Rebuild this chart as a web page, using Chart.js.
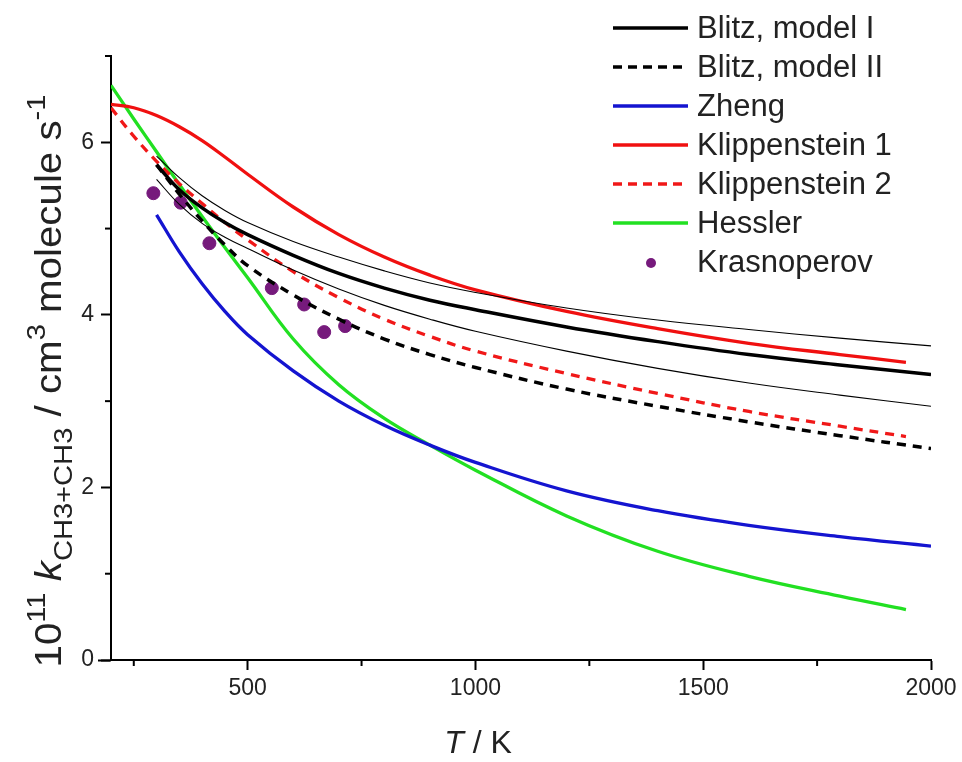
<!DOCTYPE html>
<html>
<head>
<meta charset="utf-8">
<script src="https://cdn.jsdelivr.net/npm/chart.js@4.4.1/dist/chart.umd.min.js"></script>
<style>
  html, body { margin: 0; padding: 0; background: #fff; }
</style>
</head>
<body>
<canvas id="mainChart" width="962" height="762"></canvas>
<script>
// 온도 격자 및 계열 값
const tBlitz = [300, 350, 400, 450, 500, 600, 700, 800, 900, 1000, 1200, 1400, 1600, 1800, 2000];
const blitz1 = [5.74, 5.45, 5.24, 5.07, 4.93, 4.69, 4.48, 4.31, 4.17, 4.06, 3.86, 3.69, 3.54, 3.42, 3.31];
const blitz1Upper = [5.84, 5.59, 5.38, 5.21, 5.07, 4.85, 4.67, 4.51, 4.37, 4.26, 4.08, 3.94, 3.83, 3.73, 3.64];
const blitz1Lower = [5.57, 5.28, 5.06, 4.90, 4.77, 4.52, 4.30, 4.11, 3.95, 3.81, 3.58, 3.38, 3.21, 3.07, 2.94];
const blitz2 = [5.74, 5.40, 5.09, 4.81, 4.57, 4.23, 3.95, 3.72, 3.54, 3.39, 3.14, 2.94, 2.76, 2.60, 2.45];

const tZheng = [300, 350, 400, 450, 500, 600, 700, 800, 900, 1000, 1200, 1400, 1600, 1800, 2000];
const zheng = [5.16, 4.73, 4.36, 4.04, 3.77, 3.35, 3.00, 2.72, 2.49, 2.29, 1.96, 1.73, 1.56, 1.43, 1.32];

const tKlip = [200, 250, 300, 350, 400, 450, 500, 600, 700, 800, 900, 1000, 1200, 1400, 1600, 1800, 1945];
const klip1 = [6.44, 6.40, 6.31, 6.18, 6.02, 5.83, 5.63, 5.25, 4.93, 4.67, 4.46, 4.29, 4.04, 3.84, 3.67, 3.54, 3.45];
const klip2 = [6.40, 6.07, 5.78, 5.52, 5.29, 5.07, 4.87, 4.50, 4.20, 3.95, 3.75, 3.58, 3.32, 3.09, 2.88, 2.71, 2.59];

const tHessler = [200, 250, 300, 350, 400, 450, 500, 600, 700, 800, 900, 1000, 1200, 1400, 1600, 1800, 1945];
const hessler = [6.66, 6.27, 5.89, 5.51, 5.14, 4.78, 4.43, 3.72, 3.19, 2.80, 2.49, 2.20, 1.67, 1.26, 0.97, 0.74, 0.585];

const tKras = [293, 353, 416, 553, 624, 668, 714];
const kras = [5.41, 5.30, 4.83, 4.31, 4.12, 3.80, 3.87];

// 축 눈금
const xTicks = [500, 1000, 1500, 2000];
const xMinorTicks = [250, 750, 1250, 1750];
const yTicks = [0, 2, 4, 6];
const yMinorTicks = [1, 3, 5, 7];

const FONT = "'Liberation Sans', Arial, sans-serif";

// x, y 배열 -> 점 목록
function toPoints(xs, ys) {
  return xs.map((x, i) => ({ x: x, y: ys[i] }));
}

function lineSet(label, xs, ys, color, width, dash) {
  return {
    type: 'line',
    label: label,
    data: toPoints(xs, ys),
    borderColor: color,
    backgroundColor: color,
    borderWidth: width,
    borderDash: dash || [],
    pointRadius: 0,
    fill: false,
    tension: 0.4
  };
}

const datasets = [
  lineSet('', tBlitz, blitz1Upper, '#000', 1.1),
  lineSet('', tBlitz, blitz1Lower, '#000', 1.1),
  lineSet('Klippenstein 1', tKlip, klip1, '#f01010', 3.3),
  lineSet('Blitz, model I', tBlitz, blitz1, '#000', 3.5),
  lineSet('Klippenstein 2', tKlip, klip2, '#f01818', 3.3, [9, 7]),
  lineSet('Blitz, model II', tBlitz, blitz2, '#000', 3.5, [9, 7]),
  lineSet('Zheng', tZheng, zheng, '#1414d0', 3.3),
  lineSet('Hessler', tHessler, hessler, '#22e022', 3.3),
  {
    type: 'scatter',
    label: 'Krasnoperov',
    data: toPoints(tKras, kras),
    backgroundColor: '#761a7c',
    borderColor: '#761a7c',
    pointRadius: 6.5
  }
];

// 범례 순서
const legendOrder = ['Blitz, model I', 'Blitz, model II', 'Zheng', 'Klippenstein 1', 'Klippenstein 2', 'Hessler', 'Krasnoperov'];

// 보조 눈금, 축 제목, 범례 그리기
const decorPlugin = {
  id: 'decor',
  afterDraw(chart) {
    const c = chart.ctx;
    const xs = chart.scales.x;
    const ys = chart.scales.y;
    const area = chart.chartArea;

    c.save();
    c.strokeStyle = '#000';
    c.lineWidth = 2;
    // 보조 눈금
    xMinorTicks.forEach(v => {
      const px = xs.getPixelForValue(v);
      c.beginPath();
      c.moveTo(px, area.bottom);
      c.lineTo(px, area.bottom + 6);
      c.stroke();
    });
    yMinorTicks.forEach(v => {
      const py = ys.getPixelForValue(v);
      c.beginPath();
      c.moveTo(area.left, py);
      c.lineTo(area.left - 6, py);
      c.stroke();
    });
    // x축 왼쪽 연장
    c.beginPath();
    c.moveTo(area.left - 13, area.bottom + 0.5);
    c.lineTo(area.left, area.bottom + 0.5);
    c.stroke();

    // x축 제목
    c.fillStyle = '#222';
    c.textBaseline = 'alphabetic';
    c.font = 'italic 32px ' + FONT;
    const wT = c.measureText('T').width;
    c.font = '32px ' + FONT;
    const wRest = c.measureText(' / K').width;
    const tx = 478 - (wT + wRest) / 2;
    c.font = 'italic 32px ' + FONT;
    c.fillText('T', tx, 753);
    c.font = '32px ' + FONT;
    c.fillText(' / K', tx + wT, 753);

    // y축 제목 (위첨자, 아래첨자 포함)
    const parts = [
      { t: '10', size: 36, dy: 0 },
      { t: '11', size: 26, dy: -16 },
      { t: ' ', size: 36, dy: 0 },
      { t: 'k', size: 36, dy: 0, italic: true },
      { t: 'CH3+CH3', size: 26, dy: 11 },
      { t: ' / cm', size: 36, dy: 0 },
      { t: '3', size: 26, dy: -16 },
      { t: ' molecule s', size: 36, dy: 0 },
      { t: '-1', size: 26, dy: -16 }
    ];
    let total = 0;
    parts.forEach(p => {
      c.font = (p.italic ? 'italic ' : '') + p.size + 'px ' + FONT;
      p.w = c.measureText(p.t).width;
      total += p.w;
    });
    const stretch = 573 / total;
    c.translate(61, 381);
    c.rotate(-Math.PI / 2);
    c.scale(stretch, 1);
    let px = -total / 2;
    parts.forEach(p => {
      c.font = (p.italic ? 'italic ' : '') + p.size + 'px ' + FONT;
      c.fillText(p.t, px, p.dy);
      px += p.w;
    });
    c.restore();

    // 범례
    c.save();
    c.textBaseline = 'middle';
    c.font = '31px ' + FONT;
    legendOrder.forEach((name, i) => {
      const ds = chart.data.datasets.find(d => d.label === name);
      const y = 28 + i * 39;
      if (ds.type === 'scatter') {
        c.fillStyle = ds.backgroundColor;
        c.beginPath();
        c.arc(651, y + 1, 5, 0, Math.PI * 2);
        c.fill();
      } else {
        c.strokeStyle = ds.borderColor;
        c.lineWidth = 3.3;
        c.setLineDash(ds.borderDash.length ? [9, 6] : []);
        c.beginPath();
        c.moveTo(613, y);
        c.lineTo(688, y);
        c.stroke();
        c.setLineDash([]);
      }
      c.fillStyle = '#222';
      c.fillText(name, 697, y + 1);
    });
    c.restore();
  }
};

const ctx = document.getElementById('mainChart').getContext('2d');
const mainChart = new Chart(ctx, {
  type: 'line',
  data: { datasets: datasets },
  options: {
    responsive: false,
    animation: false,
    layout: { padding: { top: 56, right: 31, left: 0, bottom: 0 } },
    plugins: {
      legend: { display: false },
      tooltip: { enabled: false }
    },
    scales: {
      x: {
        type: 'linear',
        min: 200,
        max: 2000,
        afterBuildTicks: s => { s.ticks = xTicks.map(v => ({ value: v })); },
        afterFit: s => { s.height = 102; },
        grid: { drawOnChartArea: false, drawTicks: true, tickLength: 10, tickWidth: 2, tickColor: '#000' },
        border: { display: true, color: '#000', width: 2 },
        ticks: { color: '#222', font: { family: FONT, size: 23 }, padding: 5, maxRotation: 0, callback: v => String(v) }
      },
      y: {
        type: 'linear',
        min: 0,
        max: 7,
        afterBuildTicks: s => { s.ticks = yTicks.map(v => ({ value: v })); },
        afterFit: s => { s.width = 111; },
        grid: { drawOnChartArea: false, drawTicks: true, tickLength: 10, tickWidth: 2, tickColor: '#000' },
        border: { display: true, color: '#000', width: 2 },
        ticks: { color: '#222', font: { family: FONT, size: 23 }, padding: 7, callback: v => String(v) }
      }
    }
  },
  plugins: [decorPlugin]
});
</script>
</body>
</html>
